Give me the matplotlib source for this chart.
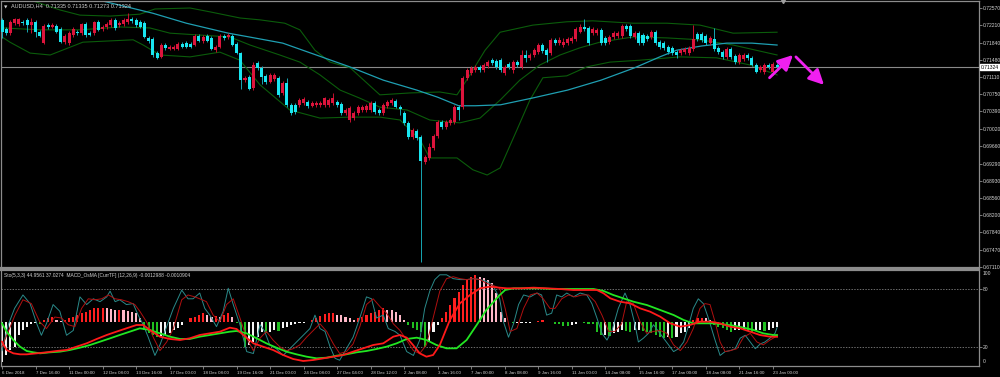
import numpy as np
import matplotlib.pyplot as plt
from matplotlib import transforms

plt.rcParams['font.family'] = ['Liberation Sans', 'DejaVu Sans']

# ---- AUDUSD H4 candles (bar index 0..185) ----
opens = [0.7232,0.7213,0.7204,0.7225,0.7223,0.7228,0.7232,0.7221,0.7228,0.7206,
         0.7183,0.7221,0.7217,0.7219,0.7213,0.7185,0.7183,0.7200,0.7206,0.7204,
         0.7223,0.7204,0.7204,0.7228,0.7213,0.7217,0.7221,0.7232,0.7221,0.7223,
         0.7228,0.7234,0.7232,0.7228,0.7225,0.7194,0.7192,0.7162,0.7154,0.7179,
         0.7171,0.7171,0.7171,0.7181,0.7183,0.7181,0.7179,0.7198,0.7187,0.7198,
         0.7194,0.7168,0.7175,0.7198,0.7196,0.7198,0.7181,0.7162,0.7105,0.7112,
         0.7088,0.7141,0.7131,0.7114,0.7101,0.7107,0.7110,0.7078,0.7099,0.7053,
         0.7053,0.7053,0.7057,0.7059,0.7050,0.7053,0.7053,0.7053,0.7053,0.7057,
         0.7059,0.7055,0.7036,0.7021,0.7025,0.7036,0.7042,0.7042,0.7042,0.7057,
         0.7042,0.7036,0.7050,0.7057,0.7061,0.7048,0.7036,0.7015,0.6985,0.6998,
         0.6985,0.6932,0.6941,0.6962,0.6987,0.7017,0.7006,0.7015,0.7017,0.7048,
         0.7048,0.7110,0.7120,0.7126,0.7133,0.7126,0.7135,0.7147,0.7145,0.7147,
         0.7120,0.7139,0.7126,0.7143,0.7133,0.7158,0.7152,0.7158,0.7164,0.7179,
         0.7168,0.7162,0.7190,0.7183,0.7179,0.7183,0.7187,0.7192,0.7206,0.7217,
         0.7215,0.7204,0.7204,0.7211,0.7194,0.7185,0.7196,0.7198,0.7198,0.7219,
         0.7219,0.7196,0.7204,0.7200,0.7198,0.7196,0.7206,0.7185,0.7183,0.7175,
         0.7173,0.7164,0.7162,0.7164,0.7162,0.7171,0.7202,0.7202,0.7198,0.7183,
         0.7192,0.7173,0.7164,0.7154,0.7171,0.7156,0.7143,0.7150,0.7158,0.7152,
         0.7137,0.7126,0.7122,0.7137,0.7122,0.7137]
highs = [0.7236,0.7217,0.7232,0.7236,0.7236,0.7232,0.7236,0.7236,0.7232,0.7211,
         0.7223,0.7225,0.7225,0.7223,0.7217,0.7202,0.7209,0.7217,0.7211,0.7225,
         0.7228,0.7209,0.7230,0.7232,0.7221,0.7228,0.7236,0.7236,0.7230,0.7236,
         0.7246,0.7238,0.7236,0.7232,0.7230,0.7198,0.7196,0.7166,0.7183,0.7183,
         0.7179,0.7179,0.7185,0.7185,0.7187,0.7185,0.7202,0.7202,0.7200,0.7202,
         0.7198,0.7179,0.7202,0.7202,0.7204,0.7202,0.7185,0.7164,0.7114,0.7116,
         0.7143,0.7145,0.7135,0.7118,0.7120,0.7120,0.7114,0.7103,0.7110,0.7057,
         0.7057,0.7067,0.7069,0.7063,0.7061,0.7061,0.7061,0.7069,0.7067,0.7078,
         0.7063,0.7059,0.7046,0.7050,0.7040,0.7053,0.7053,0.7055,0.7061,0.7061,
         0.7046,0.7057,0.7063,0.7067,0.7065,0.7053,0.7040,0.7019,0.7004,0.7002,
         0.6989,0.6947,0.6972,0.6991,0.7021,0.7021,0.7021,0.7025,0.7053,0.7053,
         0.7114,0.7131,0.7135,0.7137,0.7137,0.7141,0.7147,0.7152,0.7150,0.7152,
         0.7137,0.7143,0.7147,0.7147,0.7168,0.7168,0.7162,0.7173,0.7183,0.7183,
         0.7173,0.7194,0.7194,0.7196,0.7194,0.7196,0.7198,0.7217,0.7223,0.7234,
         0.7219,0.7217,0.7215,0.7215,0.7198,0.7200,0.7209,0.7209,0.7223,0.7223,
         0.7223,0.7209,0.7209,0.7204,0.7202,0.7211,0.7211,0.7190,0.7187,0.7179,
         0.7177,0.7168,0.7173,0.7175,0.7177,0.7221,0.7206,0.7206,0.7202,0.7198,
         0.7215,0.7177,0.7168,0.7175,0.7175,0.7160,0.7162,0.7162,0.7162,0.7156,
         0.7141,0.7137,0.7141,0.7141,0.7143,0.7141]
lows = [0.7194,0.7200,0.7200,0.7221,0.7219,0.7221,0.7206,0.7204,0.7196,0.7196,
        0.7181,0.7213,0.7215,0.7204,0.7183,0.7181,0.7179,0.7196,0.7200,0.7200,
        0.7196,0.7198,0.7200,0.7209,0.7209,0.7213,0.7217,0.7211,0.7217,0.7219,
        0.7223,0.7225,0.7217,0.7215,0.7194,0.7183,0.7154,0.7150,0.7152,0.7168,
        0.7168,0.7168,0.7168,0.7173,0.7173,0.7173,0.7177,0.7185,0.7183,0.7185,
        0.7168,0.7164,0.7173,0.7190,0.7192,0.7177,0.7160,0.7086,0.7101,0.7084,
        0.7084,0.7126,0.7097,0.7097,0.7099,0.7103,0.7069,0.7074,0.7048,0.7032,
        0.7034,0.7048,0.7053,0.7046,0.7048,0.7048,0.7048,0.7048,0.7048,0.7053,
        0.7048,0.7032,0.7032,0.7017,0.7021,0.7032,0.7038,0.7038,0.7038,0.7034,
        0.7032,0.7032,0.7046,0.7053,0.7046,0.7032,0.7010,0.6981,0.6981,0.6979,
        0.6722,0.6928,0.6937,0.6958,0.6983,0.7002,0.7002,0.7010,0.7013,0.7021,
        0.7044,0.7105,0.7116,0.7122,0.7122,0.7122,0.7131,0.7137,0.7128,0.7122,
        0.7116,0.7128,0.7120,0.7133,0.7128,0.7143,0.7147,0.7154,0.7160,0.7162,
        0.7143,0.7158,0.7179,0.7179,0.7175,0.7179,0.7183,0.7187,0.7204,0.7209,
        0.7179,0.7200,0.7200,0.7179,0.7179,0.7181,0.7192,0.7194,0.7194,0.7209,
        0.7194,0.7192,0.7179,0.7179,0.7187,0.7192,0.7179,0.7171,0.7168,0.7160,
        0.7158,0.7152,0.7158,0.7160,0.7158,0.7166,0.7187,0.7185,0.7179,0.7179,
        0.7166,0.7160,0.7150,0.7150,0.7150,0.7139,0.7139,0.7145,0.7147,0.7135,
        0.7120,0.7122,0.7118,0.7128,0.7116,0.7126]
closes = [0.7206,0.7204,0.7228,0.7234,0.7234,0.7225,0.7221,0.7228,0.7206,0.7198,
          0.7219,0.7217,0.7221,0.7206,0.7185,0.7198,0.7204,0.7213,0.7204,0.7223,
          0.7200,0.7200,0.7228,0.7211,0.7217,0.7223,0.7232,0.7215,0.7225,0.7232,
          0.7234,0.7230,0.7221,0.7217,0.7196,0.7187,0.7158,0.7152,0.7179,0.7173,
          0.7175,0.7175,0.7181,0.7175,0.7175,0.7175,0.7198,0.7187,0.7196,0.7187,
          0.7171,0.7175,0.7198,0.7194,0.7200,0.7179,0.7162,0.7105,0.7110,0.7086,
          0.7137,0.7131,0.7112,0.7101,0.7116,0.7116,0.7074,0.7099,0.7053,0.7036,
          0.7038,0.7063,0.7065,0.7050,0.7057,0.7057,0.7057,0.7067,0.7063,0.7067,
          0.7053,0.7036,0.7042,0.7046,0.7036,0.7048,0.7048,0.7050,0.7057,0.7038,
          0.7036,0.7053,0.7059,0.7063,0.7048,0.7044,0.7015,0.6985,0.7000,0.6983,
          0.6934,0.6943,0.6964,0.6987,0.7017,0.7006,0.7017,0.7021,0.7048,0.7042,
          0.7110,0.7126,0.7131,0.7133,0.7126,0.7137,0.7143,0.7141,0.7133,0.7126,
          0.7133,0.7133,0.7143,0.7137,0.7158,0.7152,0.7158,0.7168,0.7179,0.7166,
          0.7158,0.7190,0.7183,0.7190,0.7185,0.7192,0.7194,0.7213,0.7217,0.7213,
          0.7183,0.7213,0.7211,0.7183,0.7183,0.7196,0.7204,0.7204,0.7219,0.7213,
          0.7198,0.7204,0.7183,0.7183,0.7192,0.7206,0.7183,0.7175,0.7173,0.7164,
          0.7162,0.7158,0.7168,0.7171,0.7173,0.7192,0.7192,0.7190,0.7183,0.7194,
          0.7171,0.7164,0.7154,0.7171,0.7154,0.7143,0.7158,0.7158,0.7152,0.7137,
          0.7122,0.7133,0.7137,0.7133,0.7139,0.7132]

# moving average and bollinger bands, (bar, price)
ma_line = [(0,0.7310),(23,0.7274),(36,0.7246),(44,0.7225),(54,0.7204),(59,0.7196),(67,0.7183),
           (75,0.7158),(83,0.7133),(91,0.7105),(99,0.7084),(104,0.7069),(109,0.7051),(113,0.7051),
           (119,0.7053),(127,0.7068),(135,0.7084),(143,0.7105),(151,0.7131),(157,0.7154),(161,0.7168),
           (167,0.7177),(173,0.7183),(179,0.7183),(185,0.7179)]
bb_upper = [(0,0.7291),(6.7,0.7274),(13.8,0.7253),(18.6,0.7242),(25.8,0.7240),(32.9,0.7244),(36.5,0.7255),
            (44.9,0.7257),(49.6,0.7249),(56.8,0.7236),(61.6,0.7232),(67.5,0.7225),(71.1,0.7211),(74.7,0.7168),
            (78.3,0.7143),(83.1,0.7131),(90.2,0.7074),(97.4,0.7078),(104.5,0.7080),(108.6,0.7074),
            (111.7,0.7116),(115.3,0.7168),(118.9,0.7206),(126.7,0.7221),(134.8,0.7228),(141,0.7230),
            (150.6,0.7225),(158.7,0.7225),(166.6,0.7221),(174.5,0.7204),(185,0.7206)]
bb_middle = [(0,0.7215),(9.1,0.7211),(18.6,0.7211),(28.2,0.7217),(35.3,0.7215),(40.1,0.7204),(47.3,0.7200),
             (54.4,0.7196),(59.2,0.7179),(66.3,0.7158),(71.1,0.7143),(75.9,0.7116),(80.7,0.7084),(85.4,0.7067),
             (90.2,0.7048),(96.7,0.7042),(102.1,0.7021),(106.2,0.7017),(109.3,0.7015),(114.1,0.7025),
             (118.9,0.7063),(123.6,0.7105),(128.4,0.7137),(133.2,0.7158),(137.9,0.7173),(142.7,0.7185),
             (150.6,0.7196),(158.7,0.7194),(166.6,0.7190),(174.5,0.7179),(185,0.7158)]
bb_lower = [(0,0.7196),(1.9,0.7185),(6.7,0.7162),(11.5,0.7158),(19.3,0.7185),(31.3,0.7190),(33.7,0.7179),
            (37.7,0.7158),(44.9,0.7154),(52,0.7164),(56.8,0.7147),(61.6,0.7095),(68.7,0.7042),(75.9,0.7025),
            (83.1,0.7027),(90.2,0.7027),(95,0.7021),(99.8,0.6979),(102.1,0.6941),(108.6,0.6941),
            (112.4,0.6916),(115.8,0.6905),(118.9,0.6920),(122.9,0.7000),(126,0.7063),(129.1,0.7110),
            (134.8,0.7114),(139.6,0.7133),(145.1,0.7143),(152.3,0.7147),(161.8,0.7154),(170.6,0.7152),
            (178.5,0.7137),(185,0.7116)]

last_price = 0.71324
price_ticks = [0.72570,0.72210,0.71840,0.71480,0.71110,0.70750,0.70390,0.70020,
               0.69660,0.69290,0.68930,0.68560,0.68200,0.67840,0.67470,0.67110]

# ---- Stochastic (5,3,3), (bar, value) ----
stoch_k = [(0,16),(1.5,43),(3,60),(5,74),(6.7,65),(8.3,44),(9.4,32),(10.6,44),(12.2,64),(13.8,57),
           (15.4,32),(17,37),(18.6,72),(20.2,64),(21.8,70),(23.4,67),(25,72),(25.8,78),(27,67),(28.1,69),
           (29.7,64),(31.3,65),(32.5,53),(33.7,43),(34.9,30),(36.5,11),(37.7,22),(39.3,41),(40.9,60),
           (42.9,79),(44.4,70),(45.6,70),(47.2,76),(48.4,60),(49.6,53),(51.2,41),(52.8,57),(54,81),
           (55.2,64),(56.8,43),(58.4,15),(60,13),(61.6,43),(62.7,36),(63.9,22),(65.5,18),(67.1,11),
           (68.7,18),(70.3,25),(71.9,32),(73.5,39),(74.7,53),(75.9,39),(77.1,36),(78.3,20),(79.5,8),
           (80.6,6),(82.2,18),(83.8,30),(85.4,50),(87,72),(88.2,70),(89.4,50),(91,53),(92.2,39),
           (93.8,36),(95,32),(96.6,15),(98.2,11),(99.7,27),(100.9,60),(102.1,78),(103.3,90),(104.5,95),
           (106.1,95),(107.7,91),(109.3,90),(110.9,90),(112.5,91),(114.1,90),(115.7,88),(117.2,84),
           (118.8,70),(119.7,46),(120.9,30),(122.1,44),(123.3,64),(124.5,74),(126.1,72),(127.7,76),
           (128.8,74),(130,53),(131.2,55),(132.4,74),(133.6,72),(134.8,76),(136.4,72),(138,76),
           (139.6,74),(140.8,65),(142,50),(143.2,34),(144.4,27),(145.6,37),(147.1,60),(148.7,76),
           (149.9,64),(151.1,43),(151.9,25),(153.1,29),(154.3,34),(155.5,43),(156.7,36),(157.9,29),
           (159.1,22),(160.3,15),(161.5,18),(162.7,25),(163.8,41),(165,60),(166.2,70),(167.4,65),
           (168.6,50),(170.2,27),(171.4,11),(172.6,15),(173.8,16),(175,18),(176.2,29),(177.4,32),
           (178.6,25),(179.8,18),(181,23),(182.1,25),(183.3,29),(184.5,34),(185,40)]
stoch_d = [(0,20),(1.5,36),(3.1,53),(5,69),(7,65),(9,46),(10.6,39),(12.6,51),(14.2,50),(15.8,43),
           (17.4,41),(19,60),(20.6,70),(22.2,69),(23.8,70),(25.4,74),(27,70),(28.5,69),(30.1,67),
           (31.7,64),(32.9,57),(34.5,46),(36.1,30),(37.7,16),(39.3,25),(40.9,39),(42.9,69),(44.4,74),
           (46,72),(47.2,70),(48.8,67),(50.4,53),(52,46),(53.6,64),(55.2,70),(56.8,50),(58.4,29),
           (60,16),(61.6,29),(63.1,36),(64.7,27),(66.3,20),(67.9,16),(69.5,18),(71.1,22),(72.7,30),
           (74.3,37),(75.9,44),(77.5,36),(79.1,23),(80.6,13),(82.2,15),(83.8,23),(85.4,41),(87,64),
           (88.6,70),(90.2,62),(91.8,55),(93.4,44),(95,37),(96.6,27),(98.2,16),(99.7,13),(101.3,22),
           (102.9,50),(104.5,78),(106.1,91),(107.7,93),(109.3,91),(110.9,90),(112.5,91),(114.1,90),
           (115.7,86),(117.2,84),(118.8,81),(120.1,60),(121.3,36),(122.9,39),(124.5,60),(126.1,74),
           (127.7,76),(129.2,70),(130.8,60),(132,60),(133.6,70),(135.2,74),(136.8,72),(138.4,74),
           (140,74),(141.6,67),(143.2,53),(144.8,36),(146.3,36),(147.9,44),(149.1,67),(150.7,65),
           (152.3,46),(153.9,34),(155.5,36),(157.1,37),(158.7,34),(160.3,22),(161.9,16),(163.5,25),
           (165,39),(166.6,60),(167.8,65),(169,64),(170.2,46),(171.4,25),(172.6,15),(173.8,16),
           (175.4,18),(177,30),(178.6,34),(180.2,25),(181.7,22),(183.3,27),(184.5,30),(185,33)]

# ---- MACD_OsMA (12,26,9), values in units of 1e-4 ----
macd_main = [(0,-17.4),(1.1,-24.9),(2.7,-27.9),(4.3,-28.8),(5.9,-28.8),(8.3,-27.9),(10.6,-27),(13,-25.8),
             (15.4,-24.9),(17.8,-21.9),(20.2,-18.9),(22.6,-15),(25,-11.4),(27.3,-8.4),(29.7,-5.4),
             (32.1,-2.4),(33.7,-2.4),(35.3,-6.9),(37.7,-12.9),(40.1,-15),(42.5,-15.9),(44.8,-14.4),
             (47.2,-11.4),(49.6,-9.9),(52,-8.4),(54.4,-4.8),(56,-6),(57.6,-11.4),(60,-18.9),(62.3,-21.9),
             (64.7,-24.9),(67.1,-29.4),(69.5,-33),(71.9,-34.8),(74.3,-33.9),(76.7,-32.4),(79.1,-30.9),
             (81.4,-29.4),(83.8,-26.4),(86.2,-23.4),(88.6,-20.4),(91,-18.9),(93.4,-12.9),(95,-11.4),
             (96.6,-13.8),(98.1,-20.4),(99.7,-27.9),(101.3,-30.9),(102.9,-29.4),(104.5,-20.4),(106.9,2.1),
             (109.3,17.1),(111.7,24.6),(114.1,30.6),(116.4,32.1),(118.8,31.2),(120.5,30.6),(123.7,30.6),
             (126.9,31.2),(130,30.6),(133.2,30),(136.4,29.1),(139.6,29.1),(142,29.1),(143.6,26.1),
             (145.2,21.6),(147.5,18.6),(149.9,17.1),(152.3,12.6),(154.7,9.6),(157.1,5.1),(159.5,-0.9),
             (161.9,-3.9),(164.2,-2.4),(166.6,0.6),(169,0.6),(171.4,-0.9),(173.8,-3.9),(176.2,-5.4),
             (178.6,-8.4),(180.9,-11.4),(183.3,-12.9),(185,-13.0)]
macd_signal = [(0,-0.9),(1.1,-8.4),(2.7,-15.9),(4.3,-21.9),(5.9,-25.8),(7.5,-27),(9.1,-27.9),(11.4,-27),
               (13.8,-26.4),(16.2,-24.9),(18.6,-22.8),(21,-20.4),(23.4,-17.4),(25.8,-14.4),(28.1,-11.4),
               (30.5,-8.4),(32.9,-5.4),(35.3,-6.9),(37.7,-9.9),(40.1,-12.9),(42.5,-15),(44.8,-15),
               (47.2,-12.9),(49.6,-11.4),(52,-9.9),(54.4,-8.4),(56,-7.8),(58.4,-9.9),(60.8,-14.4),
               (63.1,-18.9),(65.5,-22.8),(67.9,-26.4),(70.3,-28.8),(72.7,-30.9),(75.1,-32.4),(77.5,-31.8),
               (79.9,-30),(82.2,-28.8),(84.6,-27),(87,-25.8),(89.4,-24),(91.8,-21.9),(94.2,-18.9),
               (96.6,-15),(99,-13.8),(101.3,-15.9),(103.7,-20.4),(106.1,-23.4),(108.5,-23.4),(110.9,-15.9),
               (113.3,-2.4),(115.6,11.1),(118.8,24.6),(120.1,29.1),(122.1,30.6),(125.3,30.6),(128.4,30.6),
               (131.6,30),(134.8,30),(138,30),(141.2,30),(143.6,28.2),(145.9,24.6),(148.3,21.6),
               (150.7,18.6),(153.9,15.6),(157.1,11.1),(160.3,6.6),(162.7,2.1),(165,-0.9),(167.4,-0.9),
               (169.8,-0.9),(172.2,-1.8),(174.6,-3),(177,-4.8),(179.4,-6.9),(181.7,-9.9),(184.1,-11.4),
               (185,-11.5)]
osma_hist = [-35.4,-29.4,-24.9,-21.9,-11.4,-6.9,-3.9,-1.8,-0.9,-1.8,
             2.1,3.6,5.1,2.1,1.2,2.1,3.6,5.1,6.6,8.1,
             9.6,11.1,12.6,12.6,13.2,12.6,12.0,11.1,11.1,10.8,
             10.5,9.6,8.1,3.6,-6.9,-9.9,-11.4,-12.9,-12.6,-11.4,
             -9.9,-6.9,-5.4,-2.4,0.6,3.6,5.1,6.6,8.1,6.6,
             5.1,6.0,5.1,6.6,8.1,5.1,-0.9,-8.4,-21.9,-20.4,
             -17.4,-12.9,-8.4,-9.9,-8.4,-6.9,-7.8,-5.4,-3.9,-2.4,
             -1.8,-0.9,-0.6,0.6,2.1,3.6,6.0,7.2,8.1,8.7,
             6.6,6.3,5.1,3.6,2.1,3.6,5.1,6.6,8.1,9.6,
             11.1,12.6,11.1,10.8,9.6,6.6,2.1,-2.4,-5.4,-6.9,
             -8.4,-21.9,-17.4,-8.4,-2.4,3.6,9.6,15.6,21.6,27.6,
             33.6,38.1,41.1,42.6,41.1,39.6,38.1,35.1,26.1,9.6,
             3.6,0.3,-0.9,-0.9,-0.9,-0.9,-0.6,0.0,1.2,2.1,
             0.6,0.2,-1.2,-1.8,-3.0,-3.3,-2.4,-1.8,0.6,-0.9,
             -1.2,-1.8,-8.4,-11.4,-11.4,-12.0,-9.9,-8.4,-6.9,-7.5,
             -8.4,-6.9,-6.9,-7.8,-8.4,-9.9,-11.4,-12.9,-13.8,-12.9,
             -13.8,-12.9,-9.9,-8.4,-5.4,2.1,3.6,4.2,3.6,2.1,
             -2.4,-3.9,-5.4,-6.9,-8.4,-6.9,-6.9,-6.9,-7.8,-8.4,
             -6.9,-6.9,-7.8,-6.9,-5.4,-3.9]

tick_bars = list(range(0, 186, 8))
tick_labels = ["6 Dec 2018", "7 Dec 16:00", "11 Dec 00:00", "12 Dec 08:00", "13 Dec 16:00",
               "17 Dec 00:00", "18 Dec 08:00", "19 Dec 16:00", "21 Dec 00:00", "24 Dec 08:00",
               "27 Dec 04:00", "28 Dec 12:00", "2 Jan 08:00", "3 Jan 16:00", "7 Jan 00:00",
               "8 Jan 08:00", "9 Jan 16:00", "11 Jan 00:00", "14 Jan 08:00", "15 Jan 16:00",
               "17 Jan 00:00", "18 Jan 08:00", "21 Jan 16:00", "23 Jan 00:00"]

# arrows drawn on the chart: (bar, price) tail -> head
arrows = [((183.2, 0.7110), (188.8, 0.7158)), ((189.5, 0.7154), (196.2, 0.7095))]

# ---------------- figure ----------------
W, H = 1000, 377
fig = plt.figure(figsize=(W / 100, H / 100), dpi=100, facecolor='black')
ax = fig.add_axes([1 / W, 1 - 268 / H, 978 / W, 267 / H], facecolor='black')
ax2 = fig.add_axes([1 / W, 1 - 366 / H, 978 / W, 96 / H], facecolor='black')

frame = '#8c8c8c'
txt = '#d2d2d2'
fs_head = 4.0
fs_sub = 3.5
fs_axis = 3.6
fs_time = 3.2
xlim = (-0.24, 233.2)

for a in (ax, ax2):
    a.set_xlim(*xlim)
    for s in a.spines.values():
        s.set_color(frame)
        s.set_linewidth(0.9)
ax.spines['bottom'].set_linewidth(1.6)
ax2.spines['top'].set_linewidth(1.6)

# candles
x = np.arange(len(closes))
o = np.array(opens); c = np.array(closes); hi = np.array(highs); lo = np.array(lows)
up = c >= o
bull, bear = '#dc143c', '#19e6f0'
ax.vlines(x[up], lo[up], hi[up], color='#c8102e', lw=0.7, zorder=3)
ax.vlines(x[~up], lo[~up], hi[~up], color='#16a8b4', lw=0.7, zorder=3)
body_h = np.maximum(np.abs(c - o), 0.00012)
ax.bar(x[up], body_h[up], bottom=o[up], width=0.72, color=bull, lw=0, zorder=4)
ax.bar(x[~up], body_h[~up], bottom=c[~up], width=0.72, color=bear, lw=0, zorder=4)

for pts, col, lw in [(bb_upper, '#0b5c0b', 0.8), (bb_middle, '#0b5c0b', 0.8),
                     (bb_lower, '#0b5c0b', 0.8), (ma_line, '#1f9fb2', 0.9)]:
    bx, by = zip(*pts)
    ax.plot(bx, by, color=col, lw=lw, zorder=2)

ax.axhline(last_price, color='#8a8a8a', lw=0.8, zorder=1)

for (tx, ty), (hx, hy) in arrows:
    ax.annotate('', xy=(hx, hy), xytext=(tx, ty),
                arrowprops=dict(arrowstyle='-|>,head_length=0.9,head_width=0.45',
                                color='#f020f0', lw=2.0, shrinkA=0, shrinkB=0), zorder=6)

ax.set_ylim(0.67090, 0.72718)
ax.set_xticks([])
ax.yaxis.tick_right()
ax.set_yticks(price_ticks)
ax.set_yticklabels([f"{v:.5f}" for v in price_ticks])
ax.tick_params(axis='y', colors=frame, labelcolor=txt, labelsize=fs_axis, length=2, width=0.6, pad=1)

ytr = transforms.blended_transform_factory(ax.transAxes, ax.transData)
ax.text(1.002, last_price, f"{last_price:.5f}", transform=ytr, fontsize=fs_axis, color='black',
        va='center', ha='left', bbox=dict(boxstyle='square,pad=0.15', fc='white', ec='white'),
        zorder=7, clip_on=False)
ax.plot([186.4], [0.72718], marker='v', ms=3, color='#a0a0a0', clip_on=False, zorder=7)
ax.text(0.003, 0.985, "\u25bc", transform=ax.transAxes, fontsize=3.2, color=txt,
        va='top', ha='left', family='DejaVu Sans')
ax.text(0.010, 0.99, "AUDUSD,H4  0.71335 0.71335 0.71273 0.71324", transform=ax.transAxes,
        fontsize=fs_head, color=txt, va='top', ha='left')

# ---------------- lower pane ----------------
ax2.set_ylim(0, 100)
for lvl in (80, 20):
    ax2.axhline(lvl, color='#9a9a9a', lw=0.5, ls=(0, (2, 2)), zorder=1)

ax3 = ax2.twinx()
ax3.set_ylim(-39.3, 47.1)
ax3.set_xlim(*xlim)
ax3.axis('off')
hist = np.array(osma_hist)
prev = np.concatenate([[hist[0]], hist[:-1]])
cols = []
for v, p in zip(hist, prev):
    if v >= 0:
        cols.append('#ff1f1f' if v >= p else '#ffb8c8')
    else:
        cols.append('#20c020' if v < p else '#f4f4f4')
ax3.bar(np.arange(len(hist)), hist, width=0.5, color=cols, lw=0, zorder=2)

kx, ky = zip(*stoch_k)
dx, dy = zip(*stoch_d)
ax2.plot(kx, ky, color='#2a8a8a', lw=0.7, zorder=3)
ax2.plot(dx, dy, color='#b01010', lw=0.7, zorder=3)
ax2.set_zorder(ax3.get_zorder() + 1)
ax2.patch.set_visible(False)
ax3.patch.set_facecolor('black')

mx, my = zip(*macd_main)
sx, sy = zip(*macd_signal)
ax2.plot(sx, (np.array(sy) + 39.3) / 86.4 * 100, color='#22e622', lw=1.3, zorder=5)
ax2.plot(mx, (np.array(my) + 39.3) / 86.4 * 100, color='#ff1a1a', lw=1.3, zorder=5)

ax2.yaxis.tick_right()
ax2.set_yticks([20, 80])
ax2.set_yticklabels(['20', '80'])
ax2.tick_params(axis='y', colors=frame, labelcolor=txt, labelsize=fs_axis, length=2, width=0.6, pad=1)
ax2.text(1.004, 0.985, "100", transform=ax2.transAxes, fontsize=fs_axis, color=txt, va='top', ha='left')
ax2.text(1.004, 0.02, "0", transform=ax2.transAxes, fontsize=fs_axis, color=txt, va='bottom', ha='left')

ax2.set_xticks(tick_bars)
ax2.set_xticklabels(tick_labels)
for lab in ax2.get_xticklabels():
    lab.set_ha('left')
ax2.tick_params(axis='x', colors=frame, labelcolor=txt, labelsize=fs_time, length=2.5, width=0.6, pad=1)

ax2.text(0.003, 0.97, "Sto(5,3,3) 44.9561 37.0274  MACD_OsMA [CurrTF] (12,26,9) -0.0012988 -0.0010904",
         transform=ax2.transAxes, fontsize=fs_sub, color=txt, va='top', ha='left', zorder=8)

fig.savefig('out.png', dpi=100, facecolor='black')
